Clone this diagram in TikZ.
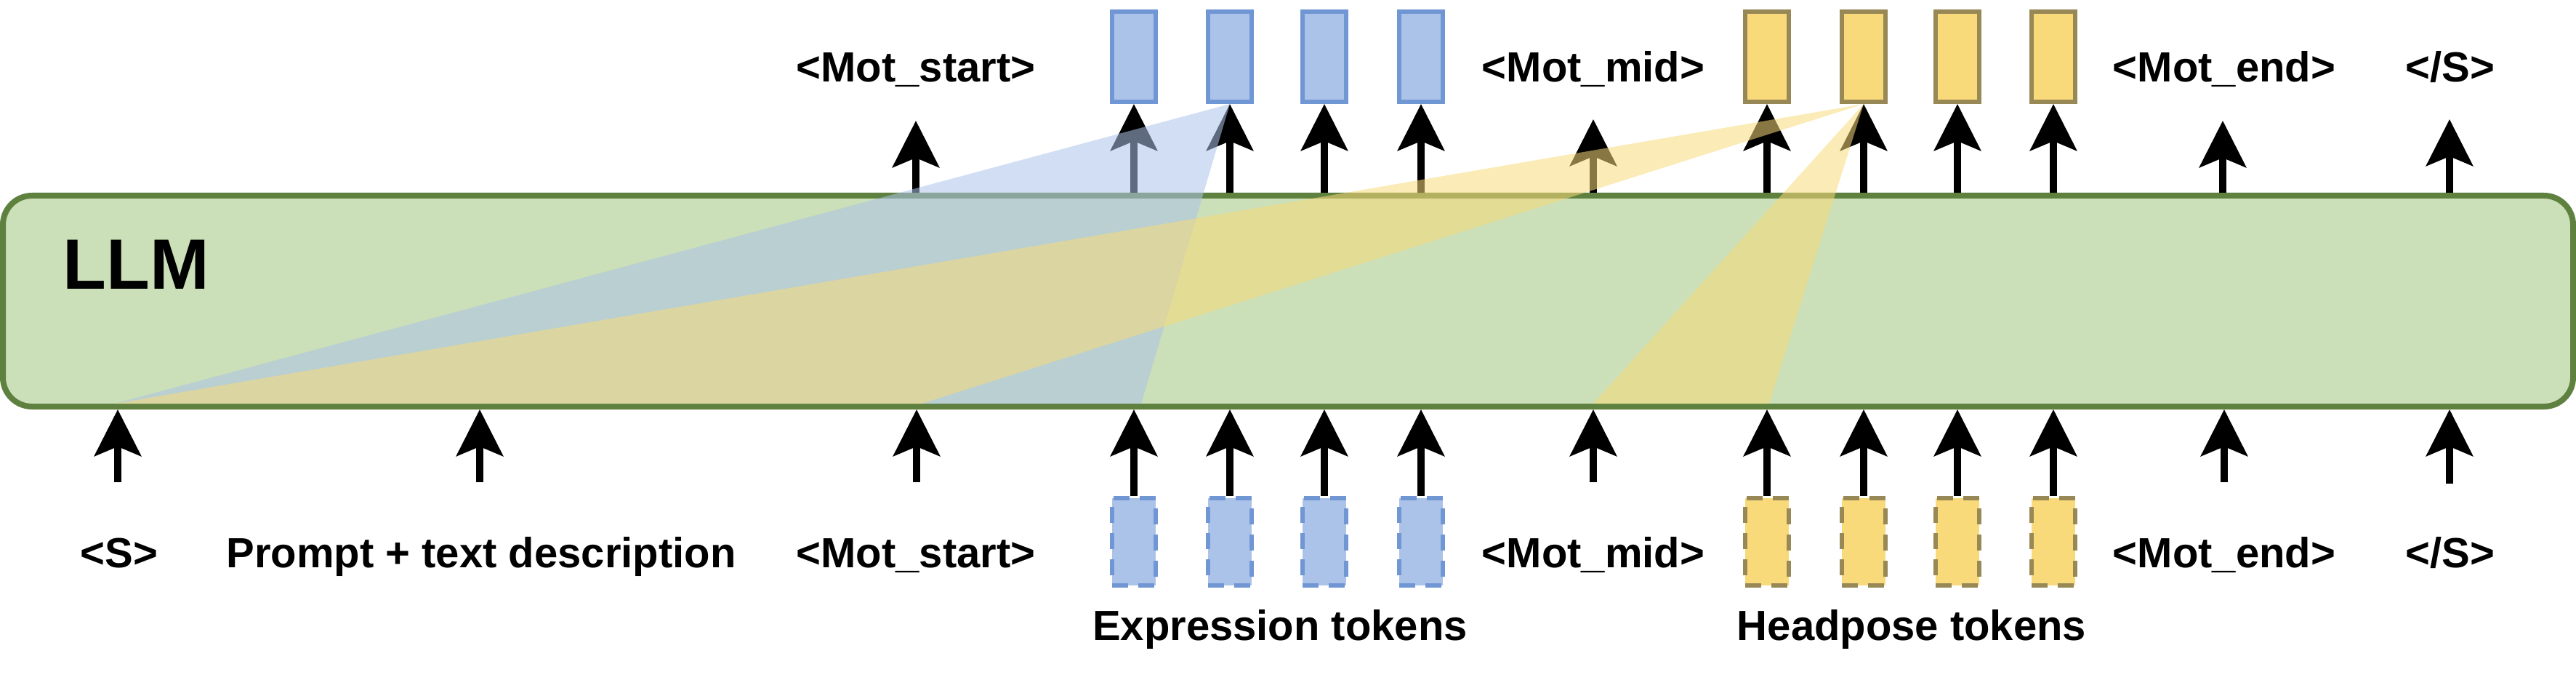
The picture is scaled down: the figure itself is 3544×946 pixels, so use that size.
\documentclass[tikz,border=0pt]{standalone}
\usepackage{fontspec}
\setmainfont{Liberation Sans}
\usetikzlibrary{arrows.meta}
\definecolor{llmfill}{HTML}{CBDFB8}
\definecolor{llmdraw}{HTML}{5F8140}
\definecolor{bfill}{HTML}{ACC3E9}
\definecolor{bdraw}{HTML}{7096D4}
\definecolor{yfill}{HTML}{F8DA7A}
\definecolor{ydraw}{HTML}{988856}
\begin{document}
\begin{tikzpicture}[x=0.5pt,y=-0.5pt,
 lbl/.style={font=\fontsize{29}{34}\selectfont\bfseries, inner sep=0pt, anchor=base},
 tok/.style={minimum width=30pt, minimum height=62pt, line width=3pt, inner sep=0pt},
 intok/.style={minimum width=30pt, minimum height=60pt, line width=3pt, inner sep=0pt, dash pattern=on 11pt off 7pt},
 btok/.style={fill=bfill, draw=bdraw},
 ytok/.style={fill=yfill, draw=ydraw},
 arr/.style={line width=5pt, -{Stealth[length=32pt,width=32pt,inset=6.5pt]}},
 tri/.style={fill opacity=0.55, draw=none}]
\useasboundingbox (0,0) rectangle (3544,946);

% LLM block
\node[draw=llmdraw, fill=llmfill, line width=4pt, rounded corners=20pt,
      minimum width=1768pt, minimum height=145pt, inner sep=0pt] (llm) at (1772,414) {};
\node[font=\fontsize{49}{56}\selectfont\bfseries, inner sep=0pt, anchor=base west] (llmlbl) at (86,398) {LLM};

% output tokens (top)
\foreach \i/\x in {1/1560,2/1692,3/1822,4/1955}
  \node[tok, btok] (tb\i) at (\x,78) {};
\foreach \i/\x in {1/2431,2/2564,3/2693,4/2825}
  \node[tok, ytok] (ty\i) at (\x,78) {};

% input tokens (bottom)
\foreach \i/\x in {1/1560,2/1692,3/1822,4/1955}
  \node[intok, btok] (bb\i) at (\x,745) {};
\foreach \i/\x in {1/2431,2/2564,3/2693,4/2825}
  \node[intok, ytok] (by\i) at (\x,745) {};

% top labels
\node[lbl] (omstart) at (1260,113) {<Mot\_start>};
\node[lbl] (ommid)   at (2192,113) {<Mot\_mid>};
\node[lbl] (omend)   at (3060,113) {<Mot\_end>};
\node[lbl] (oend)    at (3371,113) {</S>};

% bottom labels
\node[lbl] (is)      at (164,780)  {<S>};
\node[lbl] (iprompt) at (662,780)  {Prompt + text description};
\node[lbl] (imstart) at (1260,780) {<Mot\_start>};
\node[lbl] (immid)   at (2192,780) {<Mot\_mid>};
\node[lbl] (imend)   at (3060,780) {<Mot\_end>};
\node[lbl] (iend)    at (3371,780) {</S>};
\node[lbl] (expr)    at (1761,880) {Expression tokens};
\node[lbl] (head)    at (2630,880) {Headpose tokens};

% coordinates for free arrow ends
\coordinate (uMS) at (1260,166);
\coordinate (uMM) at (2192,164);
\coordinate (uME) at (3058,166);
\coordinate (uE)  at (3370,164);
\coordinate (dS)  at (162,663);
\coordinate (dP)  at (660,663);
\coordinate (dMS) at (1261,663);
\coordinate (dMM) at (2192,663);
\coordinate (dME) at (3060,663);
\coordinate (dE)  at (3370,665);

% upper arrows
\foreach \n in {tb1,tb2,tb3,tb4,ty1,ty2,ty3,ty4}
  \draw[arr] (\n.south |- llm.north) -- (\n.south);
\foreach \n in {uMS,uMM,uME,uE}
  \draw[arr] (\n |- llm.north) -- (\n);

% lower arrows
\foreach \n in {bb1,bb2,bb3,bb4,by1,by2,by3,by4}
  \draw[arr] (\n.north) -- (\n.north |- llm.south);
\foreach \n in {dS,dP,dMS,dMM,dME,dE}
  \draw[arr] (\n) -- (\n |- llm.south);

% attention wedges
\coordinate (wS)  at (158,555);
\coordinate (wMS) at (1268,555);
\coordinate (wE1) at (1570,555);
\coordinate (wMM) at (2192,555);
\coordinate (wH1) at (2434,555);
\fill[tri, bfill] (wS) -- (tb2.south) -- (wE1) -- cycle;
\fill[tri, yfill] (wS) -- (ty2.south) -- (wMS) -- cycle;
\fill[tri, yfill] (wMM) -- (ty2.south) -- (wH1) -- cycle;
\end{tikzpicture}
\end{document}
